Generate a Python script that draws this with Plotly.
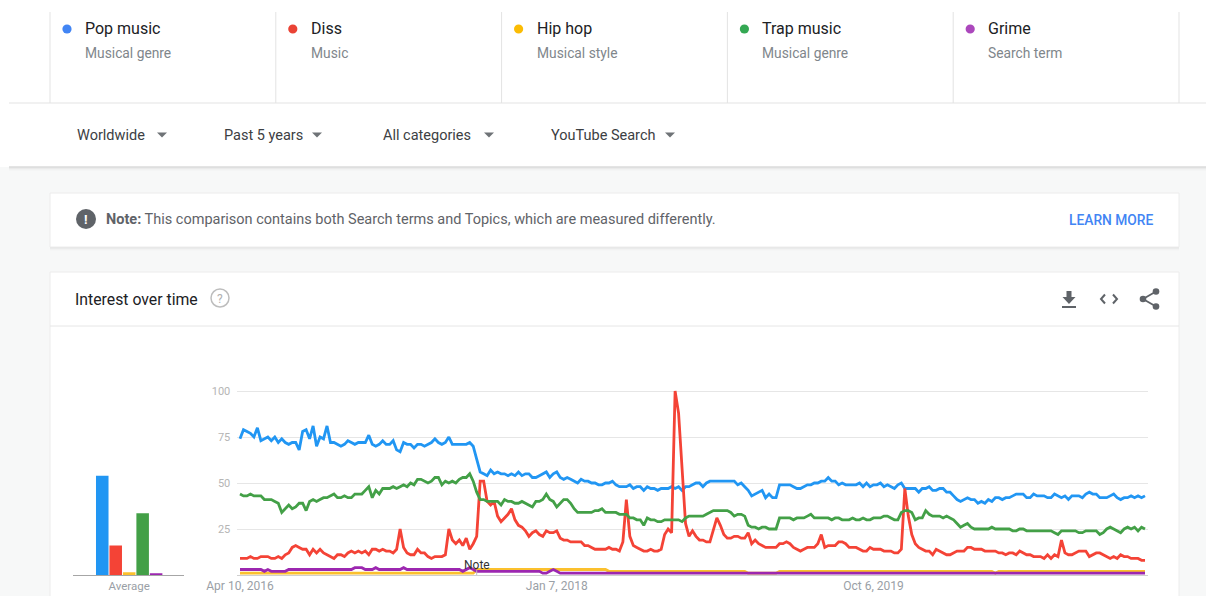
import plotly.graph_objects as go
import pandas as pd

# ---------------- data ----------------
TERMS = ["Pop music", "Diss", "Hip hop", "Trap music", "Grime"]
TERM_TYPES = ["Musical genre", "Music", "Musical style", "Musical genre", "Search term"]
FILTERS = ["Worldwide", "Past 5 years", "All categories", "YouTube Search"]
START_DATE = "2016-04-10"
TICK_DATES = ["2016-04-10", "2018-01-07", "2019-10-06"]
TICK_LABELS = ["Apr 10, 2016", "Jan 7, 2018", "Oct 6, 2019"]
Y_TICKS = [25, 50, 75, 100]
AVERAGES = [54, 16, 1.5, 33.5, 0.7]

POP = [
    74, 79, 78, 77, 75, 80, 73, 74, 75, 73,
    75, 72, 74, 72, 71, 72, 72, 68, 78, 79,
    74, 81, 70, 75, 74, 81, 72, 72, 71, 70,
    71, 73, 72, 71, 72, 72, 72, 76, 71, 70,
    71, 73, 71, 71, 73, 68, 67, 72, 71, 71,
    69, 71, 71, 70, 71, 72, 74, 72, 71, 72,
    75, 71, 71, 71, 71, 71, 72, 70, 63, 56,
    55, 54, 57,
    55, 56, 55, 55, 54, 55, 54, 56, 54, 55,
    55, 53, 53, 54, 55, 56, 53, 55, 56, 53,
    52, 53, 52, 51, 50, 52, 51, 51, 50, 50,
    49, 49, 50, 50, 51, 49, 48, 48, 48, 49,
    47, 48, 48, 46, 48, 47, 47, 46, 47, 47,
    47, 48, 47, 48, 46, 48, 48, 49, 50, 50,
    48, 50, 51, 51, 51, 51, 51, 51, 51, 51,
    49, 50, 48, 46, 43, 44, 45, 46, 42, 44,
    42, 42, 49, 49, 49, 49, 48, 47, 47, 48,
    49, 49, 50, 50, 51, 51, 53, 51, 51, 49,
    50, 49, 49, 49, 49, 50, 48, 50, 48, 49,
    49, 50, 48, 49, 48, 47, 49, 50, 47, 47,
    47, 47, 45, 47, 47,
    48, 46, 46, 47, 47, 45, 45, 43, 41, 40,
    41, 42, 41, 41, 39, 40, 39, 41, 40, 42,
    42, 41, 42, 42, 43, 44, 44, 44, 42, 42,
    44, 43, 43, 43, 42, 42, 44, 43, 42, 43,
    41, 43, 43, 43, 42, 44, 45, 44, 44, 42,
    42, 42, 43, 44, 42, 41, 42, 42, 43, 42,
    43, 42, 43,
]

DISS = [
    9, 9, 9, 10, 9, 9, 10, 10, 10, 9,
    9, 10, 9, 11, 12, 15, 16, 15, 14, 14,
    11, 14, 12, 14, 12, 11, 10, 9, 11, 11,
    10, 12, 13, 12, 13, 12, 13, 11, 14, 14,
    13, 14, 13, 13, 12, 14, 25, 15, 12, 11,
    11, 14, 12, 12, 10, 9, 10, 10, 10, 11,
    25, 19, 17, 19, 16, 20, 14, 17, 21, 51,
    51, 40, 38, 40, 32, 29, 31, 33, 36, 30,
    27, 26, 24, 21, 23, 24, 22, 21, 24, 23,
    23, 24, 20, 19, 19, 18, 18, 18, 18, 16,
    16, 15, 14, 14, 14, 14, 15, 14, 14, 13,
    18, 41, 21, 16, 15, 14, 13, 13, 14, 13,
    13, 14, 22, 25, 23, 100, 88, 58, 28, 21,
    24, 21, 19, 19, 18, 18, 25, 31, 27, 22,
    20, 20, 21, 21, 20, 20, 23, 17, 19, 17,
    16, 15, 15, 15, 15, 17, 17, 18, 17, 15,
    14, 13, 14, 15, 15, 15, 17, 22, 15, 16,
    16, 16, 18, 18, 17, 15, 15, 15, 14, 13,
    13, 15, 14, 14, 14, 13, 13, 13, 12, 12,
    14, 47, 32, 22, 17, 15, 14, 13, 13, 11,
    14, 13, 12, 11, 11, 12, 13, 13, 13, 15,
    15, 14, 14, 14, 13, 13, 13, 13, 12, 12,
    11, 12, 12, 11, 13, 12, 11, 11, 10, 10,
    10, 9, 11, 9, 11, 10, 19, 12, 11, 11,
    12, 13, 13, 13, 10, 11, 12, 12, 11, 10,
    9, 10, 9, 11, 10, 10, 9, 9, 9, 8,
    8,
]

HIP_HOP = [
    1, 1, 1, 1, 1, 1, 1, 1, 1, 1,
    1, 1, 1, 1, 1, 1, 1, 1, 1, 1,
    1, 1, 1, 1, 1, 1, 1, 1, 1, 1,
    1, 1, 1, 1, 1, 1, 1, 1, 1, 1,
    1, 1, 1, 1, 1, 1, 1, 1, 1, 1,
    1, 1, 1, 1, 1, 1, 1, 1, 1, 1,
    1, 1, 1, 1, 1, 1, 1, 1, 3, 3,
    3, 3, 3, 3, 3, 3, 3, 3, 3, 3,
    3, 3, 3, 3, 3, 3, 3, 3, 3, 3,
    3, 3, 3, 3, 3, 3, 3, 3, 3, 3,
    3, 3, 3, 3, 3, 3, 2, 2, 2, 2,
    2, 2, 2, 2, 2, 2, 2, 2, 2, 2,
    2, 2, 2, 2, 2, 2, 2, 2, 2, 2,
    2, 2, 2, 2, 2, 2, 2, 2, 2, 2,
    2, 2, 2, 2, 2, 2, 1, 1, 1, 1,
    1, 1, 1, 1, 1, 2, 2, 2, 2, 2,
    2, 2, 2, 2, 2, 2, 2, 2, 2, 2,
    2, 2, 2, 2, 2, 2, 2, 2, 2, 2,
    2, 2, 2, 2, 2, 2, 2, 2, 2, 2,
    2, 2, 2, 2, 2, 2, 2, 2, 2, 2,
    2, 2, 2, 2, 2, 2, 2, 2, 2, 2,
    2, 2, 2, 2, 2, 2, 2, 1, 2, 2,
    2, 2, 2, 2, 2, 2, 2, 2, 2, 2,
    2, 2, 2, 2, 2, 2, 2, 2, 2, 2,
    2, 2, 2, 2, 2, 2, 2, 2, 2, 2,
    2, 2, 2, 2, 2, 2, 2, 2, 2, 2,
    2,
]

TRAP = [
    44, 43, 43, 44, 43, 43, 43, 41, 41, 41,
    40, 39, 34, 36, 38, 36, 37, 39, 39, 35,
    40, 41, 40, 41, 42, 42, 43, 44, 42, 42,
    43, 42, 42, 44, 44, 44, 46, 48, 42, 46,
    44, 47, 47, 47, 48, 47, 48, 49, 48, 50,
    49, 52, 52, 51, 50, 51, 53, 53, 49, 51,
    50, 51, 50, 52, 53, 53, 55, 51, 45, 41,
    41, 40, 40, 40, 40, 38, 41, 40, 40, 39,
    39, 40, 39, 38, 37, 40, 40, 41, 44, 41,
    40, 37, 39, 41, 41, 39, 36, 34, 34, 34,
    34, 34, 35, 35, 36, 34, 34, 34, 34, 33,
    33, 33, 31, 31, 30, 30, 27, 31, 30, 30,
    29, 29, 30, 30, 30, 30, 30, 29, 31, 32,
    32, 32, 32, 32, 33, 34, 35, 35, 35, 35,
    35, 34, 32, 33, 33, 32, 27, 26, 26, 25,
    26, 26, 25, 25, 25, 31, 31, 31, 31, 30,
    31, 31, 31, 32, 33, 31, 31, 31, 31, 31,
    30, 31, 31, 30, 30, 30, 31, 30, 30, 31,
    30, 30, 31, 31, 31, 32, 32, 31, 30, 30,
    34, 35, 35, 34, 30, 31, 31, 35, 33, 32,
    32, 32, 31, 32, 31, 30, 28, 26, 27, 28,
    26, 25, 25, 25, 25, 25, 26, 25, 25, 25,
    25, 25, 24, 24, 25, 25, 24, 24, 24, 24,
    24, 24, 24, 24, 23, 22, 24, 24, 24, 24,
    24, 23, 23, 24, 24, 24, 24, 22, 23, 25,
    26, 25, 24, 23, 25, 26, 25, 26, 24, 26,
    25,
]

GRIME = [
    3, 3, 3, 3, 3, 3, 3, 2, 3, 2,
    2, 2, 2, 2, 3, 3, 3, 3, 3, 3,
    3, 3, 3, 3, 3, 3, 3, 3, 3, 3,
    3, 3, 3, 4, 4, 4, 3, 3, 3, 4,
    3, 3, 3, 3, 3, 3, 3, 4, 3, 3,
    3, 3, 3, 3, 3, 3, 3, 3, 3, 3,
    3, 3, 3, 3, 2, 3, 4, 3, 2, 2,
    2, 2, 2, 2, 2, 2, 2, 2, 2, 2,
    2, 2, 2, 2, 2, 2, 2, 1, 1, 2,
    3, 2, 1, 1, 1, 1, 1, 1, 1, 1,
    1, 1, 1, 1, 1, 1, 1, 1, 1, 1,
    1, 1, 1, 1, 1, 1, 1, 1, 1, 1,
    1, 1, 1, 1, 1, 1, 1, 1, 1, 1,
    1, 1, 1, 1, 1, 1, 1, 1, 1, 1,
    1, 1, 1, 1, 1, 1, 1, 1, 1, 1,
    1, 1, 1, 1, 1, 1, 1, 1, 1, 1,
    1, 1, 1, 1, 1, 1, 1, 1, 1, 1,
    1, 1, 1, 1, 1, 1, 1, 1, 1, 1,
    1, 1, 1, 1, 1, 1, 1, 1, 1, 1,
    1, 1, 1, 1, 1, 1, 1, 1, 1, 1,
    1, 1, 1, 1, 1, 1, 1, 1, 1, 1,
    1, 1, 1, 1, 1, 1, 1, 1, 1, 1,
    1, 1, 1, 1, 1, 1, 1, 1, 1, 1,
    1, 1, 1, 1, 1, 1, 1, 1, 1, 1,
    1, 1, 1, 1, 1, 1, 1, 1, 1, 1,
    1, 1, 1, 1, 1, 1, 1, 1, 1, 1,
    1,
]

SERIES = [POP, DISS, HIP_HOP, TRAP, GRIME]
NOTE_WEEK = 68

# ---------------- styles ----------------
LINE_COLORS = ["#2196f3", "#f44336", "#fbc02d", "#43a047", "#9c27b0"]
DOT_COLORS = ["#4285f4", "#ea4335", "#fbbc04", "#34a853", "#ab47bc"]
FONT = "Roboto"
W, H = 1206, 596


def X(px):
    return px / W


def Y(py):
    return 1 - py / H


shapes = []
annotations = []


def rect(x0, y0, x1, y1, fill, line=None, lw=0):
    shapes.append(dict(type="rect", xref="paper", yref="paper", layer="below",
                       x0=X(x0), y0=Y(y1), x1=X(x1), y1=Y(y0),
                       fillcolor=fill, line=dict(color=line or fill, width=lw)))


def hline(x0, x1, y, color, w=1):
    shapes.append(dict(type="line", xref="paper", yref="paper", layer="below",
                       x0=X(x0), x1=X(x1), y0=Y(y), y1=Y(y), line=dict(color=color, width=w)))


def vline(x, y0, y1, color, w=1):
    shapes.append(dict(type="line", xref="paper", yref="paper", layer="below",
                       x0=X(x), x1=X(x), y0=Y(y0), y1=Y(y1), line=dict(color=color, width=w)))


def circle(cx, cy, r, fill, line=None, lw=0, layer="above"):
    shapes.append(dict(type="circle", xref="paper", yref="paper", layer=layer,
                       x0=X(cx - r), x1=X(cx + r), y0=Y(cy + r), y1=Y(cy - r),
                       fillcolor=fill, line=dict(color=line or fill, width=lw)))


def path(pts, fill=None, line=None, lw=0, close=True):
    d = "M " + " L ".join(f"{X(a):.6f},{Y(b):.6f}" for a, b in pts)
    if close:
        d += " Z"
    shapes.append(dict(type="path", xref="paper", yref="paper", layer="above", path=d,
                       fillcolor=fill if fill else "rgba(0,0,0,0)",
                       line=dict(color=line or "rgba(0,0,0,0)", width=lw)))


def text(x, y, s, size, color, anchor="left", weight=None):
    f = dict(family=FONT, size=size, color=color)
    if weight:
        f["weight"] = weight
    annotations.append(dict(xref="paper", yref="paper", x=X(x), y=Y(y), text=s,
                            showarrow=False, xanchor=anchor, yanchor="middle", font=f))


# page background pieces
rect(0, 0, W, 167, "#ffffff")
hline(9, W, 103, "#e3e3e3")
for k in range(6):
    vline(50 + 225.8 * k, 12, 103, "#e3e3e3")
# filter bar shadow
hline(9, W, 167, "#c9c9c9")
hline(9, W, 168, "#dcdcdc")
hline(9, W, 169, "#eaeaea")
hline(9, W, 170, "#f2f2f2")

# legend/terms header
for k, (t, st) in enumerate(zip(TERMS, TERM_TYPES)):
    x0 = 50 + 225.8 * k
    circle(x0 + 17, 29, 4.6, DOT_COLORS[k])
    text(x0 + 33, 29, t, 16, "#202124")
    text(x0 + 33, 53, st, 13.8, "#80868b")

# filters
FILTER_X = [76, 223, 382, 550]
ARROW_X = [162, 317, 489, 670]
for s, fx, ax in zip(FILTERS, FILTER_X, ARROW_X):
    text(fx - 1, 135, s, 14.5, "#3c4043")
    path([(ax - 5, 132.5), (ax + 5, 132.5), (ax, 137.5)], fill="#6f7377")

# note card
rect(50, 193, 1179, 247, "#ffffff", "#ececec", 1)
hline(50, 1179, 248, "#dedede")
hline(50, 1179, 249, "#ebebeb")
hline(50, 1179, 250, "#f3f3f3")
circle(86, 219, 10, "#5f6368")
text(86, 219.5, "<b>!</b>", 13, "#ffffff", anchor="center")
text(104, 219.5, "<b>Note:</b> This comparison contains both Search terms and Topics, which are measured differently.",
     14.5, "#5f6368")
text(1156, 219.5, "LEARN MORE", 13.8, "#4285f4", anchor="right", weight=500)

# interest card
rect(50, 272, 1179, 600, "#ffffff", "#ececec", 1)
hline(50, 1179, 326, "#e6e6e6")
text(73, 299, "Interest over time", 15.8, "#202124")
circle(220, 298, 9, "rgba(0,0,0,0)", "#bdbdbd", 1.5)
text(220, 298.5, "?", 12, "#b0b0b0", anchor="center")
# download icon
path([(1066.5, 291), (1071.5, 291), (1071.5, 297), (1075.5, 297), (1069, 304), (1062.5, 297), (1066.5, 297)],
     fill="#5f6368")
path([(1062, 306), (1076, 306), (1076, 308), (1062, 308)], fill="#5f6368")
# embed icon
path([(1105, 294.5), (1101, 299), (1105, 303.5)], line="#5f6368", lw=2, close=False)
path([(1113, 294.5), (1117, 299), (1113, 303.5)], line="#5f6368", lw=2, close=False)
# share icon
path([(1156, 291.5), (1143, 299), (1156, 306.5)], line="#5f6368", lw=1.8, close=False)
circle(1156, 291.5, 3.3, "#5f6368")
circle(1143, 299, 3.3, "#5f6368")
circle(1156, 306.5, 3.3, "#5f6368")

# ---------------- chart ----------------
dates = pd.date_range(START_DATE, periods=len(POP), freq="7D")
x_range = [dates[0] - pd.Timedelta(hours=130), dates[-1] + pd.Timedelta(hours=130)]
y_dom = [Y(575), Y(388.24)]

fig = go.Figure()
fig.add_trace(go.Bar(x=list(range(len(AVERAGES))), y=AVERAGES, width=0.93,
                     marker=dict(color=LINE_COLORS, line=dict(width=0)),
                     xaxis="x", yaxis="y", hoverinfo="skip"))
for name, vals, col in zip(TERMS, SERIES, LINE_COLORS):
    fig.add_trace(go.Scatter(x=dates, y=vals, name=name, mode="lines",
                             line=dict(color=col, width=2.8),
                             xaxis="x2", yaxis="y2"))

# note marker
note_date = dates[NOTE_WEEK]
shapes.append(dict(type="line", xref="x2", yref="y2", x0=note_date, x1=note_date, y0=0, y1=2.6,
                   line=dict(color="#bdbdbd", width=1), layer="above"))
annotations.append(dict(xref="x2", yref="y2", x=note_date, y=5.4, text="Note", showarrow=False,
                        xanchor="center", yanchor="middle",
                        font=dict(family=FONT, size=12, color="#333333")))

fig.update_layout(
    width=W, height=H, margin=dict(l=0, r=0, t=0, b=0, autoexpand=False),
    paper_bgcolor="#f7f8f8", plot_bgcolor="rgba(0,0,0,0)",
    showlegend=False, font=dict(family=FONT),
    shapes=shapes, annotations=annotations,
    xaxis=dict(domain=[X(73.3), X(184)], anchor="y", range=[-2.15, 6.07], automargin=False,
               tickvals=[2], ticktext=["Average"], showgrid=False, zeroline=False,
               showline=True, linecolor="#a6a6a6", linewidth=1, ticks="",
               tickfont=dict(family=FONT, size=11.5, color="#9aa0a6"), fixedrange=True),
    yaxis=dict(domain=y_dom, anchor="x", range=[0, 101.5], visible=False, automargin=False,
               fixedrange=True),
    xaxis2=dict(domain=[X(237.3), X(1147.7)], anchor="y2", type="date", range=x_range,
                automargin=False,
                tickvals=TICK_DATES, ticktext=TICK_LABELS, showgrid=False, zeroline=False,
                showline=True, linecolor="#cfcfcf", linewidth=1, ticks="",
                tickfont=dict(family=FONT, size=12, color="#9aa0a6"), fixedrange=True),
    yaxis2=dict(domain=y_dom, anchor="x2", range=[0, 101.5], tickvals=Y_TICKS, automargin=False,
                showgrid=True, gridcolor="#e6e6e6", gridwidth=1, zeroline=False,
                showline=False, ticks="", ticklabelstandoff=6,
                tickfont=dict(family=FONT, size=11, color="#b5b5b5"), fixedrange=True),
)

fig.write_html("out.html", config={"displayModeBar": False},
               post_script="document.body.style.margin='0';document.body.style.overflow='hidden';")
